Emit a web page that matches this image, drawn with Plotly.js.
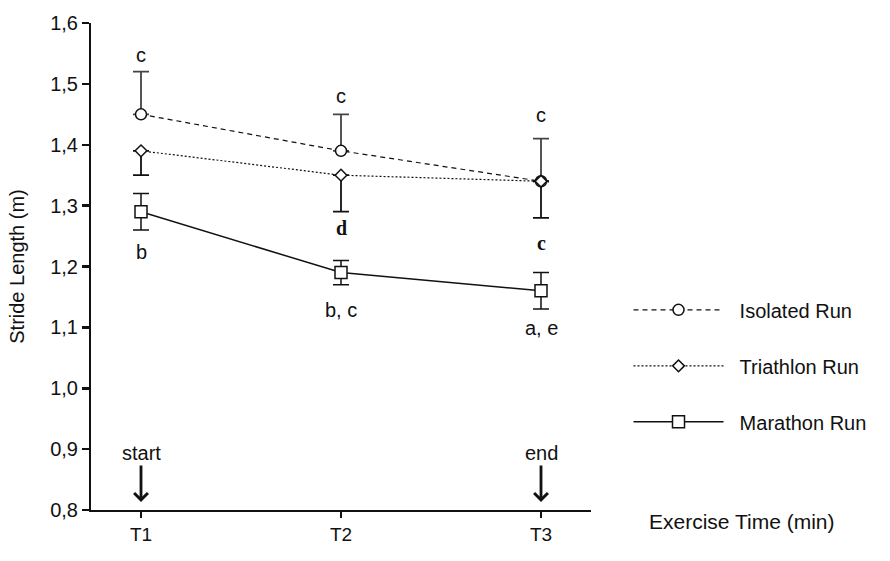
<!DOCTYPE html>
<html>
<head>
<meta charset="utf-8">
<script src="https://cdn.plot.ly/plotly-3.0.1.min.js"></script>
<style>html,body{margin:0;padding:0;background:#fff;}#chart{width:890px;height:561px;}</style>
</head>
<body>
<div id="chart"></div>
<script>
// ---- data ----
const timePoints = ['T1', 'T2', 'T3'];
const isolatedRun = [1.45, 1.39, 1.34];
const isolatedErrUp = [0.07, 0.06, 0.07];
const triathlonRun = [1.39, 1.35, 1.34];
const triathlonErrDown = [0.04, 0.06, 0.06];
const marathonRun = [1.29, 1.19, 1.16];
const marathonErr = [0.03, 0.02, 0.03];
const yTickVals = [0.8, 0.9, 1.0, 1.1, 1.2, 1.3, 1.4, 1.5, 1.6];
const yTickText = ['0,8', '0,9', '1,0', '1,1', '1,2', '1,3', '1,4', '1,5', '1,6'];
const seriesNames = ['Isolated Run', 'Triathlon Run', 'Marathon Run'];

const FONT = 'Liberation Sans, Arial, sans-serif';
const SERIF = 'Liberation Serif, Times New Roman, serif';
const PAD = '\u00a0\u00a0';

const traces = [
  {
    x: timePoints, y: isolatedRun, name: PAD + seriesNames[0], type: 'scatter', mode: 'lines+markers',
    legendgroup: 'a',
    line: {color: '#111', width: 1.2, dash: '5px,4px'},
    marker: {symbol: 'circle', size: 11, color: '#fff', line: {color: '#111', width: 1.5}},
    error_y: {type: 'data', symmetric: false, array: isolatedErrUp, arrayminus: [0, 0, 0],
              color: '#444', thickness: 1.8, width: 8}
  },
  {
    x: timePoints, y: triathlonRun, name: PAD + seriesNames[1], type: 'scatter', mode: 'lines+markers',
    legendgroup: 'b',
    line: {color: '#111', width: 1.2, dash: '2px,2px'},
    marker: {symbol: 'diamond', size: 9, color: '#fff', line: {color: '#111', width: 1.5}},
    error_y: {type: 'data', symmetric: false, array: [0, 0, 0], arrayminus: triathlonErrDown,
              color: '#111', thickness: 1.8, width: 8}
  },
  {
    x: timePoints, y: marathonRun, name: PAD + seriesNames[2], type: 'scatter', mode: 'lines+markers',
    legendgroup: 'c',
    line: {color: '#111', width: 1.5},
    marker: {symbol: 'square', size: 12, color: '#fff', line: {color: '#111', width: 1.5}},
    error_y: {type: 'data', array: marathonErr, color: '#111', thickness: 1.5, width: 8}
  }
];

function letter(x, y, t, bold) {
  return {x: x, y: y, xref: 'x', yref: 'y', text: t, showarrow: false,
          font: bold ? {family: SERIF, size: 20, color: '#111', weight: 'bold'} : {family: FONT, size: 20, color: '#111'}};
}
function arrow(x) {
  return {x: x, y: 0.813, xref: 'x', yref: 'y', ax: 0, ay: -38, text: '', showarrow: true,
          arrowhead: 4, arrowsize: 0.95, arrowwidth: 2.8, arrowcolor: '#111'};
}

const layout = {
  width: 890, height: 561,
  margin: {l: 91, r: 299, t: 23, b: 51},
  paper_bgcolor: '#fff', plot_bgcolor: '#fff',
  font: {family: FONT, color: '#111', size: 19},
  showlegend: true,
  legend: {x: 1.075, y: 0.451, xanchor: 'left', yanchor: 'top', itemwidth: 90,
           tracegroupgap: 27, font: {family: FONT, size: 20, color: '#111'},
           bgcolor: 'rgba(0,0,0,0)'},
  xaxis: {
    type: 'category', range: [-0.25, 2.25], showgrid: false, zeroline: false,
    showline: true, linecolor: '#111', linewidth: 2,
    ticks: 'outside', ticklen: 6, tickwidth: 2.5, tickcolor: '#111',
    tickfont: {family: FONT, size: 19, color: '#111'}
  },
  yaxis: {
    range: [0.8, 1.6], showgrid: false, zeroline: false,
    showline: true, linecolor: '#111', linewidth: 2,
    ticks: 'outside', ticklen: 7, tickwidth: 2.5, tickcolor: '#111',
    tickvals: yTickVals, ticktext: yTickText,
    tickfont: {family: FONT, size: 20, color: '#111'},
    title: {text: 'Stride Length (m)', font: {family: FONT, size: 20, color: '#111'}, standoff: 20}
  },
  annotations: [
    letter('T1', 1.547, 'c'), letter('T2', 1.48, 'c'), letter('T3', 1.449, 'c'),
    letter('T2', 1.263, 'd', true), letter('T3', 1.238, 'c', true),
    letter('T1', 1.224, 'b'), letter('T2', 1.128, 'b, c'), letter('T3', 1.099, 'a, e'),
    letter('T1', 0.893, 'start'), letter('T3', 0.893, 'end'),
    arrow('T1'), arrow('T3'),
    {x: (742 - 91) / 500, y: -(521 - 510) / 487, xref: 'paper', yref: 'paper', xanchor: 'center', yanchor: 'middle',
     text: 'Exercise Time (min)', showarrow: false, font: {family: FONT, size: 21, color: '#111'}}
  ]
};

Plotly.newPlot('chart', traces, layout, {displayModeBar: false, staticPlot: true});
</script>
</body>
</html>
